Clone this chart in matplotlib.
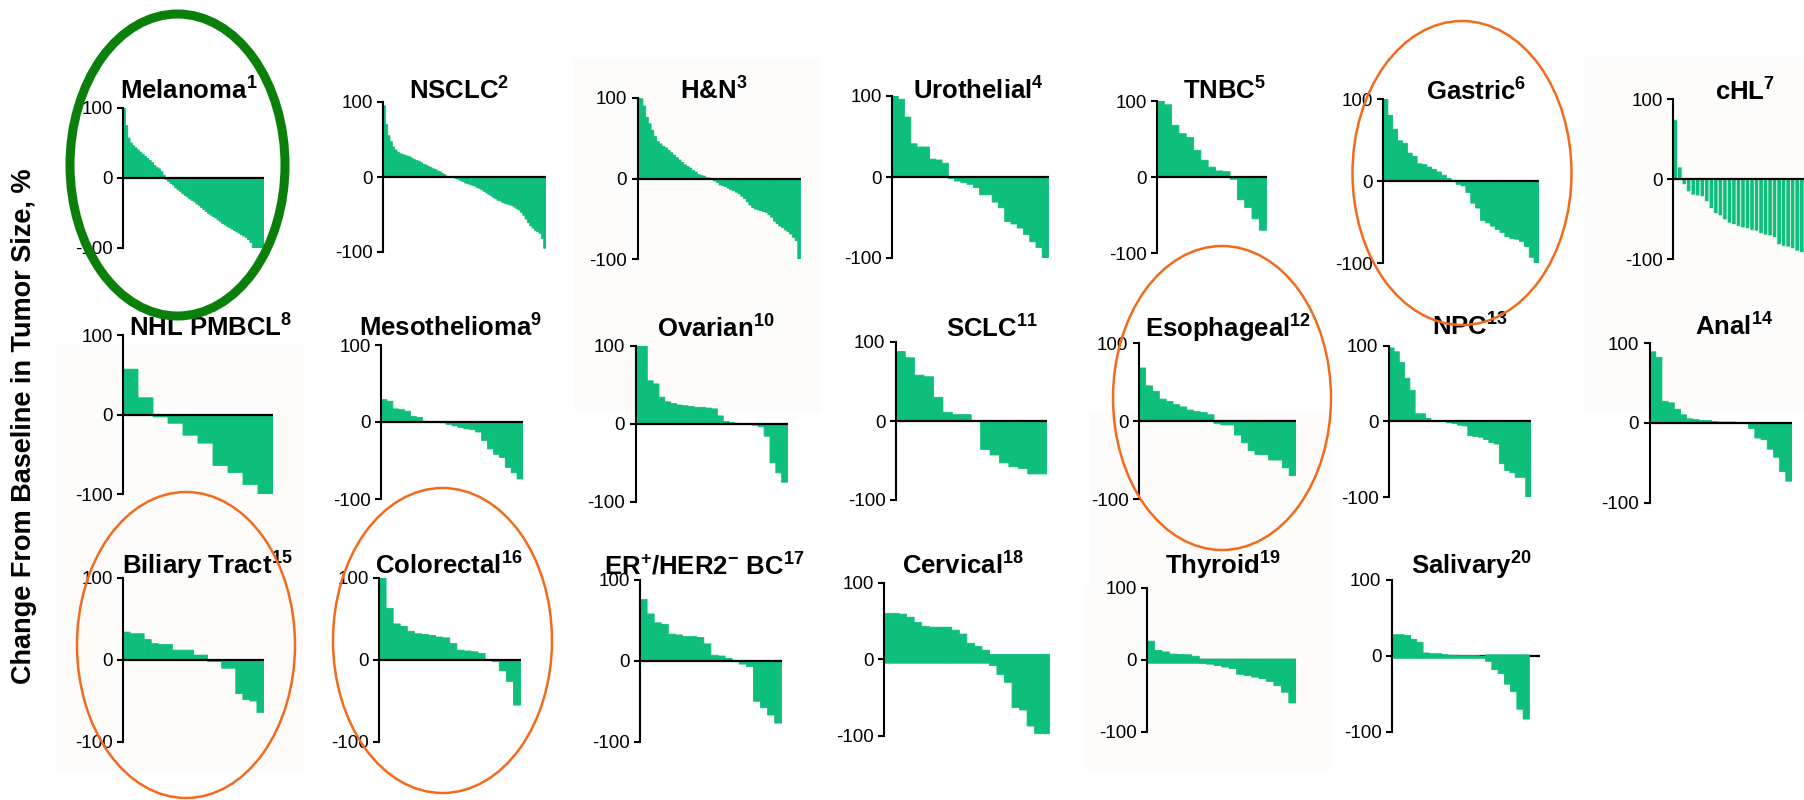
import matplotlib
matplotlib.use('Agg')
import matplotlib.pyplot as plt
from matplotlib.patches import Ellipse, Rectangle

W, H, DPI = 1804, 800, 100
plt.rcParams['font.family'] = ['Liberation Sans', 'DejaVu Sans']
plt.rcParams['mathtext.fontset'] = 'custom'
plt.rcParams['mathtext.rm'] = 'Liberation Sans:bold'
plt.rcParams['mathtext.it'] = 'Liberation Sans:bold'
plt.rcParams['mathtext.bf'] = 'Liberation Sans:bold'
plt.rcParams['axes.unicode_minus'] = False

# ---------------- data ----------------
titles = ['Melanoma$^{1}$', 'NSCLC$^{2}$', 'H&N$^{3}$', 'Urothelial$^{4}$', 'TNBC$^{5}$',
          'Gastric$^{6}$', 'cHL$^{7}$', 'NHL PMBCL$^{8}$', 'Mesothelioma$^{9}$', 'Ovarian$^{10}$',
          'SCLC$^{11}$', 'Esophageal$^{12}$', 'NPC$^{13}$', 'Anal$^{14}$', 'Biliary Tract$^{15}$',
          'Colorectal$^{16}$', 'ER$^{+}$/HER2$^{-}$ BC$^{17}$', 'Cervical$^{18}$',
          'Thyroid$^{19}$', 'Salivary$^{20}$']

melanoma = [100, 75, 57, 50, 46, 43, 40, 37, 34, 31, 28, 25, 22, 18, 15, 13, 9, 4, -2, -5,
            -8, -10, -14, -17, -19, -22, -25, -27, -30, -32, -34, -37, -39, -42, -45, -48, -51,
            -53, -55, -57, -60, -62, -65, -67, -69, -71, -73, -75, -77, -79, -81, -83, -85, -88,
            -92, -100, -100, -100, -100, -100]
nsclc = [95, 70, 55, 47, 40, 36, 33, 31, 30, 29, 28, 27, 25, 23, 22, 21, 19, 17, 16, 14, 13,
         11, 10, 8, 7, 5, 3, 1, 0.5, 0, -1, -2, -3, -5, -6, -8, -9, -10, -11, -12, -14, -15,
         -17, -19, -21, -23, -25, -27, -29, -31, -32, -34, -35, -36, -37, -38, -40, -42, -44,
         -47, -51, -56, -61, -65, -68, -71, -73, -75, -82, -95]
hn = [100, 99, 90, 76, 68, 60, 52, 46, 43, 40, 38, 35, 32, 29, 26, 23, 20, 17, 15, 13, 10, 8,
      5, 4, 3, 1, 0.5, -1, -3, -5, -8, -9, -10, -12, -14, -15, -17, -19, -22, -25, -29, -33,
      -36, -38, -39, -40, -41, -42, -45, -48, -53, -56, -59, -61, -64, -66, -69, -73, -77, -100]
urothelial = [100, 96, 74, 41, 37, 37, 22, 21, 17, -2, -5, -7, -9, -13, -22, -22, -31, -38,
              -55, -58, -63, -71, -80, -87, -100]
tnbc = [100, 95, 68, 57, 52, 35, 22, 13, 8, 7, -3, -30, -40, -55, -70]
gastric = [100, 80, 63, 49, 46, 34, 30, 21, 20, 17, 14, 11, 7, 3, 0.5, -4, -6, -14, -27, -33,
           -48, -51, -55, -59, -63, -68, -70, -71, -74, -80, -93, -100]
chl = [74, 15, -7, -16, -20, -21, -22, -28, -37, -43, -46, -51, -55, -57, -59, -61, -62, -64,
       -65, -68, -70, -71, -73, -82, -84, -85, -87, -90, -92]
nhl = [57, 21, -3, -11, -26, -36, -64, -73, -88, -100]
meso = [29, 27, 17, 16, 14, 7, 6, 1, 0.5, 0.5, -1, -3, -5, -7, -9, -10, -13, -24, -35, -42,
        -46, -59, -66, -74]
ovarian = [100, 100, 55, 51, 34, 28, 26, 24, 23, 22, 21, 21, 20, 19, 10, 3, 1.5, 0.5, 0.3, 0.3,
           -2, -4, -16, -50, -63, -75]
sclc = [88, 80, 58, 56, 30, 11, 8, 8, 0, -36, -43, -53, -58, -60, -67, -67]
esophageal = [68, 45, 38, 28, 25, 21, 18, 14, 12, 11, 8, -3, -5, -5, -18, -28, -38, -43, -43,
              -50, -50, -60, -70]
npc = [97, 92, 78, 57, 41, 10, 10, 4, 0.5, 0.5, 0.3, -2, -3, -5, -6, -19, -20, -21, -24, -28,
       -30, -56, -65, -68, -74, -74, -100]
anal = [89, 82, 27, 25, 17, 10, 5, 4, 3, 3, 1.5, 1, 1, 1, 0.5, -1, -7, -19, -21, -33, -43,
        -61, -73]
biliary = [34, 32, 32, 25, 20, 19, 19, 12, 12, 12, 6, 6, -2, -2, -10, -10, -41, -48, -50, -64]
colorectal = [100, 63, 44, 41, 35, 32, 31, 30, 28, 27, 20, 12, 11, 10, 8, 0.5, -2, -13, -26, -55]
er_her2 = [76, 58, 47, 45, 33, 32, 30, 30, 29, 21, 7, 6, 3, -1, -4, -7, -50, -58, -67, -77]
cervical = [60, 60, 59, 55, 48, 43, 42, 42, 42, 38, 33, 21, 17, 12, -8, -20, -30, -63, -66, -87,
            -97, -97]
thyroid = [26, 13, 11, 8, 7.5, 7, 5, -5, -6, -8, -10, -12, -20, -22, -24, -26, -30, -36, -45, -60]
salivary = [28, 28, 27, 22, 18, 4, 3, 3, 2, 1, 1, 0.5, 0.5, 0.5, 0, -7, -18, -23, -37, -47, -70, -83]

series = [melanoma, nsclc, hn, urothelial, tnbc, gastric, chl, nhl, meso, ovarian, sclc,
          esophageal, npc, anal, biliary, colorectal, er_her2, cervical, thyroid, salivary]
yticks = [-100, 0, 100]
yticklabels = ['-100', '0', '100']

# ---------------- layout (pixels) ----------------
# x0, x1, y(+100), y(-100), title centre x, title baseline y
layout = [
    (123, 264, 108, 248, 189, 100), (383, 546, 102, 252, 459, 100),
    (637.5, 800.5, 98, 259, 714, 100), (892, 1048.5, 96, 258, 978, 100),
    (1157, 1266.6, 101, 253, 1225, 100), (1383, 1539, 99, 263, 1476, 101),
    (1673, 1804, 99, 259, 1745, 101),
    (123, 273, 335, 494, 211, 337), (381, 523, 345, 499, 451, 337),
    (635.6, 787.5, 345.7, 501.7, 716, 338), (895.8, 1046.6, 342, 500, 992, 338),
    (1138.8, 1296, 343, 499, 1228, 338), (1388.8, 1531, 345.7, 497, 1470, 336),
    (1649.5, 1792, 343, 502.7, 1734, 336),
    (123, 264, 578, 742, 207, 575), (379, 520.5, 578, 742, 449, 575),
    (640, 781.8, 580, 741.7, 704, 575), (884, 1049.7, 582.7, 736, 963, 575),
    (1147, 1296.3, 588, 731.7, 1223, 575), (1391.8, 1540, 580, 732, 1471, 575),
]
# per-panel bar base shift (pos base, neg base) and extra axis length (in bars)
shift = {17: (-5, 6.5), 18: (-4.7, 1), 19: (-3, 1.5)}
extra = {19: 1.7}
edge = {6: ('#e6f6ee', 0.6)}

BAR = '#0DBF7A'
fig = plt.figure(figsize=(W / DPI, H / DPI), dpi=DPI)
fig.patch.set_facecolor('white')

# faint pasted-panel backgrounds
for (bx0, by0, bx1, by1) in [(574, 58, 821, 412), (1585, 57, 1804, 413), (55, 345, 303, 770),
                             (1083, 585, 1331, 770), (1090, 413, 1331, 585)]:
    fig.add_artist(Rectangle((bx0 / W, 1 - by1 / H), (bx1 - bx0) / W, (by1 - by0) / H,
                             transform=fig.transFigure, facecolor='#fdfcfa', edgecolor='none',
                             zorder=-5))

for i, (vals, (x0, x1, yt, yb, tcx, tby)) in enumerate(zip(series, layout)):
    ax = fig.add_axes([x0 / W, 1 - yb / H, (x1 - x0) / W, (yb - yt) / H])
    ax.set_facecolor('none')
    n = len(vals)
    pb, nb = shift.get(i, (0, 0))
    bottoms = [pb if v >= 0 else nb for v in vals]
    heights = [v - b for v, b in zip(vals, bottoms)]
    ec, lw = edge.get(i, (BAR, 0.6))
    bars = ax.bar(range(n), heights, bottom=bottoms, width=1.0, align='edge', color=BAR,
                  edgecolor=ec, linewidth=lw, zorder=2)
    for b in bars:
        b.set_snap(False)
    ax.axhline(0, color='black', lw=1.6, zorder=3 if i not in shift else 1)
    ax.set_xlim(0, n + extra.get(i, 0))
    ax.set_ylim(-100, 100)
    ax.set_xticks([])
    ax.set_yticks(yticks)
    ax.set_yticklabels(yticklabels)
    ax.tick_params(axis='y', length=4.5, width=1.5, pad=3, labelsize=13.5, colors='black')
    for s in ['top', 'right', 'bottom']:
        ax.spines[s].set_visible(False)
    ax.spines['left'].set_linewidth(1.5)
    fig.text(tcx / W, 1 - tby / H, titles[i], ha='center', va='baseline', fontsize=18.5,
             fontweight='bold', color='black')

fig.text(24.5 / W, 1 - 426.5 / H, 'Change From Baseline in Tumor Size, %', rotation=90,
         ha='center', va='center', fontsize=19.5, fontweight='bold')

# highlight ellipses (pixel centre, width, height)
fig.add_artist(Ellipse((177.5 / W, 1 - 165 / H), 215 / W, 302 / H, transform=fig.transFigure,
                       fill=False, edgecolor='#0a800a', lw=6.5, zorder=10))
for (cx, cy, ew, eh) in [(1462, 173, 219, 304), (1222, 398, 218, 304), (186, 645, 218, 306),
                         (442.5, 640.5, 219, 305)]:
    fig.add_artist(Ellipse((cx / W, 1 - cy / H), ew / W, eh / H, transform=fig.transFigure,
                           fill=False, edgecolor='#F26B1D', lw=1.8, zorder=10))

fig.savefig('out.png', dpi=DPI, facecolor='white')
